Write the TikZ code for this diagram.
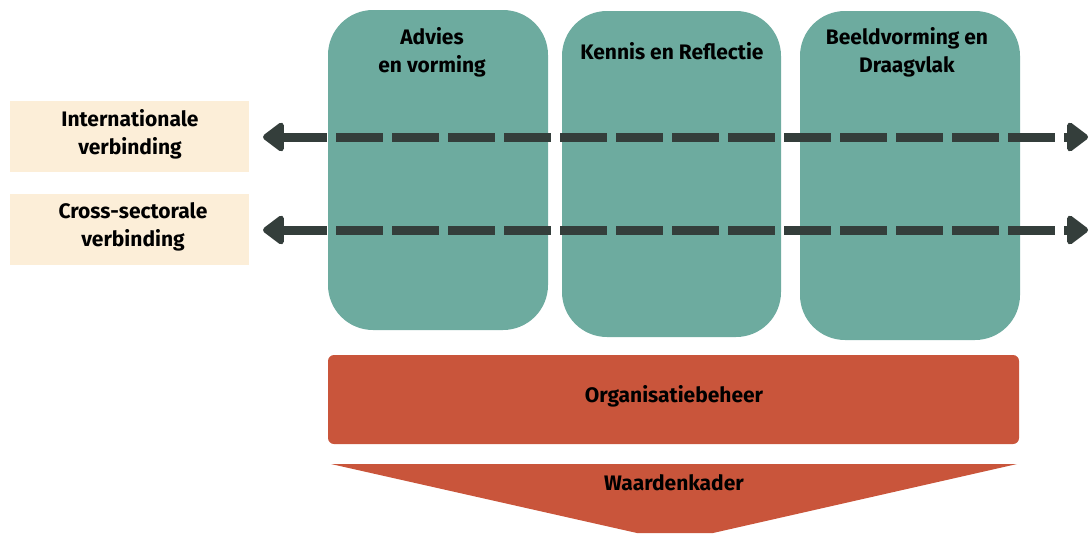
\documentclass[tikz,border=0pt]{standalone}
\usepackage{fontspec}
\setmainfont{Fira Sans}
\usetikzlibrary{arrows.meta}
\definecolor{teal}{HTML}{6DAB9F}
\definecolor{beige}{HTML}{FCEED8}
\definecolor{brick}{HTML}{C9553B}
\definecolor{darkline}{HTML}{343E3B}
\tikzset{
  pillar/.style={fill=teal, draw=none, rounded corners=45pt},
  sidebox/.style={fill=beige, draw=none},
  lbl/.style={font=\fontsize{21}{28}\selectfont\bfseries, align=center, text=black, inner sep=0pt},
  arr/.style={draw=darkline, line width=9pt},
  tip/.style={-{Triangle[length=23pt,width=33pt,round]}},
  dashes/.style={dash pattern=on 47pt off 9pt, dash phase=47pt}
}
\begin{document}
\begin{tikzpicture}[x=1pt,y=-1pt]
\useasboundingbox (0,0) rectangle (1089,533);
% pillars
\path[pillar] (328,10) rectangle (548,330);
\path[pillar] (562,11) rectangle (781,337);
\path[pillar] (800,11) rectangle (1020,340);
\node[lbl] (advies) at (432,52) {Advies\\en vorming};
\node[lbl] (kennis) at (672,51) {Kennis en Reflectie};
\node[lbl] (beeld) at (907,52) {Beeldvorming en\\Draagvlak};
% side boxes
\path[sidebox] (10,101) rectangle (249,172);
\path[sidebox] (10,194) rectangle (249,265);
\node[lbl] (inter) at (130,134) {Internationale\\verbinding};
\node[lbl] (cross) at (133,227) {Cross-sectorale\\verbinding};
% arrows
\coordinate (l1) at (263,137); \coordinate (m1) at (327,137); \coordinate (r1) at (1088,137);
\coordinate (l2) at (263,230); \coordinate (m2) at (327,230); \coordinate (r2) at (1088,230);
\draw[arr, tip] (m1) -- (l1);
\draw[arr, tip, dashes] (m1) -- (r1);
\draw[arr, tip] (m2) -- (l2);
\draw[arr, tip, dashes] (m2) -- (r2);
% organisation bar
\path[fill=brick, rounded corners=6pt] (328,355) rectangle (1019,444);
\node[lbl] (org) at (674,396) {Organisatiebeheer};
% values triangle
\fill[brick] (331,464) -- (1017,464) -- (713,533) -- (637,533) -- cycle;
\node[lbl] (waarden) at (674,483) {Waardenkader};
\end{tikzpicture}
\end{document}
